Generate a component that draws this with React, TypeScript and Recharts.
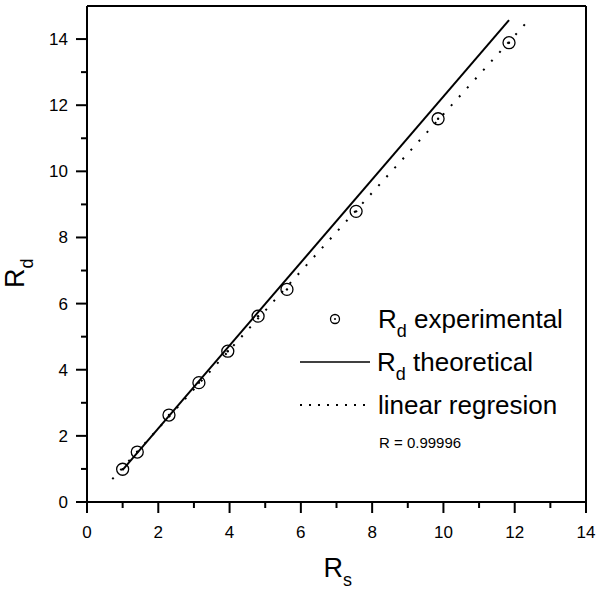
import React from 'react';
import { ComposedChart, Scatter, Line, XAxis, YAxis, Legend } from 'recharts';

// experimental points
const rsExp = [1.0, 1.41, 2.3, 3.14, 3.95, 4.8, 5.61, 7.55, 9.85, 11.84];
const rdExp = [0.99, 1.51, 2.63, 3.61, 4.56, 5.62, 6.43, 8.79, 11.59, 13.89];

// theoretical line (end points)
const rsTheory = [1.0, 11.84];
const rdTheory = [0.97, 14.57];

// linear regression (end points)
const rsFit = [0.71, 12.29];
const rdFit = [0.69, 14.45];

const xTicks = [0, 1, 2, 3, 4, 5, 6, 7, 8, 9, 10, 11, 12, 13, 14];
const yTicks = [0, 1, 2, 3, 4, 5, 6, 7, 8, 9, 10, 11, 12, 13, 14];
const rValue = 'R = 0.99996';

const expData = rsExp.map((rs, i) => ({ rs, rd: rdExp[i] }));
const theoryData = rsTheory.map((rs, i) => ({ rs, rd: rdTheory[i] }));
const fitData = rsFit.map((rs, i) => ({ rs, rd: rdFit[i] }));

const FONT = '"Liberation Sans", Arial, sans-serif';
const MAJOR = 11;
const MINOR = 6;

const makeTick = (side: 'bottom' | 'top' | 'left' | 'right') => (props: any) => {
  const { x, y, payload } = props;
  const v = payload.value;
  const major = v % 2 === 0;
  const len = major ? MAJOR : MINOR;
  if (side === 'bottom') {
    return (
      <g>
        <line x1={x} y1={y} x2={x} y2={y + len} stroke="#000" strokeWidth={2} />
        {major && (
          <text x={x} y={y + 36} textAnchor="middle" fontSize={17} fontFamily={FONT} fill="#000">{v}</text>
        )}
      </g>
    );
  }
  if (side === 'left') {
    return (
      <g>
        <line x1={x} y1={y} x2={x - len} y2={y} stroke="#000" strokeWidth={2} />
        {major && (
          <text x={x - 19} y={y + 6} textAnchor="end" fontSize={17} fontFamily={FONT} fill="#000">{v}</text>
        )}
      </g>
    );
  }
  if (side === 'top') {
    return <line x1={x} y1={y} x2={x} y2={y + len} stroke="#000" strokeWidth={2} />;
  }
  return <line x1={x} y1={y} x2={x - len} y2={y} stroke="#000" strokeWidth={2} />;
};

const CircleDot = (props: any) => {
  const { cx, cy } = props;
  return (
    <g>
      <circle cx={cx} cy={cy} r={6} fill="none" stroke="#000" strokeWidth={1.3} />
      <circle cx={cx} cy={cy} r={1.2} fill="#000" />
    </g>
  );
};

const LegendBox = () => (
  <svg width={300} height={170} style={{ overflow: 'visible' }}>
    <g fontFamily={FONT} fill="#000">
      <circle cx={45} cy={29} r={4.5} fill="none" stroke="#000" strokeWidth={1.3} />
      <circle cx={45} cy={29} r={1} fill="#000" />
      <text x={88} y={38} fontSize={26}>
        R<tspan fontSize={18} dy={9}>d</tspan><tspan dy={-9}> experimental</tspan>
      </text>
      <line x1={10} y1={72} x2={80} y2={72} stroke="#000" strokeWidth={1.5} />
      <text x={87} y={81} fontSize={26}>
        R<tspan fontSize={18} dy={9}>d</tspan><tspan dy={-9}> theoretical</tspan>
      </text>
      <line x1={10} y1={115} x2={78} y2={115} stroke="#000" strokeWidth={2} strokeDasharray="2 7" />
      <text x={88} y={124} fontSize={26}>linear regresion</text>
      <text x={89} y={158} fontSize={15}>{rValue}</text>
    </g>
  </svg>
);

const AxisTitleX = (props: any) => {
  const { viewBox } = props;
  const cx = viewBox.x + viewBox.width / 2;
  return (
    <text x={cx - 13} y={577} fontSize={27} fontFamily={FONT} fill="#000">
      R<tspan fontSize={18} dy={9}>s</tspan>
    </text>
  );
};

const AxisTitleY = () => (
  <text x={24} y={288} transform="rotate(-90 24 288)" fontSize={27} fontFamily={FONT} fill="#000">
    R<tspan fontSize={18} dy={9}>d</tspan>
  </text>
);

export default function App() {
  return (
    <div style={{ position: 'absolute', left: 0, top: 0, background: '#fff' }}>
      <ComposedChart width={600} height={596} margin={{ top: 4, right: 12, left: 7, bottom: 14 }}>
        <XAxis
          xAxisId="b"
          dataKey="rs"
          type="number"
          orientation="bottom"
          domain={[0, 14]}
          ticks={xTicks}
          interval={0}
          height={80}
          tickSize={0}
          tickMargin={0}
          tickLine={false}
          axisLine={{ stroke: '#000', strokeWidth: 2 }}
          tick={makeTick('bottom')}
          label={{ content: AxisTitleX }}
        />
        <XAxis
          xAxisId="t"
          dataKey="rs"
          type="number"
          orientation="top"
          domain={[0, 14]}
          ticks={xTicks}
          interval={0}
          height={2}
          tickSize={0}
          tickMargin={0}
          tickLine={false}
          axisLine={{ stroke: '#000', strokeWidth: 2 }}
          tick={makeTick('top')}
        />
        <YAxis
          yAxisId="l"
          dataKey="rd"
          type="number"
          orientation="left"
          domain={[0, 15]}
          ticks={yTicks}
          interval={0}
          width={80}
          tickSize={0}
          tickMargin={0}
          tickLine={false}
          axisLine={{ stroke: '#000', strokeWidth: 2 }}
          tick={makeTick('left')}
          label={{ content: AxisTitleY }}
        />
        <YAxis
          yAxisId="r"
          dataKey="rd"
          type="number"
          orientation="right"
          domain={[0, 15]}
          ticks={yTicks}
          interval={0}
          width={2}
          tickSize={0}
          tickMargin={0}
          tickLine={false}
          axisLine={{ stroke: '#000', strokeWidth: 2 }}
          tick={makeTick('right')}
        />
        <Line
          xAxisId="b"
          yAxisId="l"
          data={theoryData}
          dataKey="rd"
          name="Rd theoretical"
          type="linear"
          stroke="#000"
          strokeWidth={2}
          dot={false}
          isAnimationActive={false}
        />
        <Line
          xAxisId="b"
          yAxisId="l"
          data={fitData}
          dataKey="rd"
          name="linear regresion"
          type="linear"
          stroke="#000"
          strokeWidth={2}
          strokeDasharray="2 10"
          dot={false}
          isAnimationActive={false}
        />
        <Scatter
          xAxisId="b"
          yAxisId="l"
          data={expData}
          dataKey="rd"
          name="Rd experimental"
          shape={CircleDot}
          isAnimationActive={false}
        />
        <Legend
          layout="vertical"
          align="center"
          verticalAlign="middle"
          wrapperStyle={{ left: 290, top: 290, width: 300, height: 170 }}
          content={LegendBox}
        />
      </ComposedChart>
    </div>
  );
}
